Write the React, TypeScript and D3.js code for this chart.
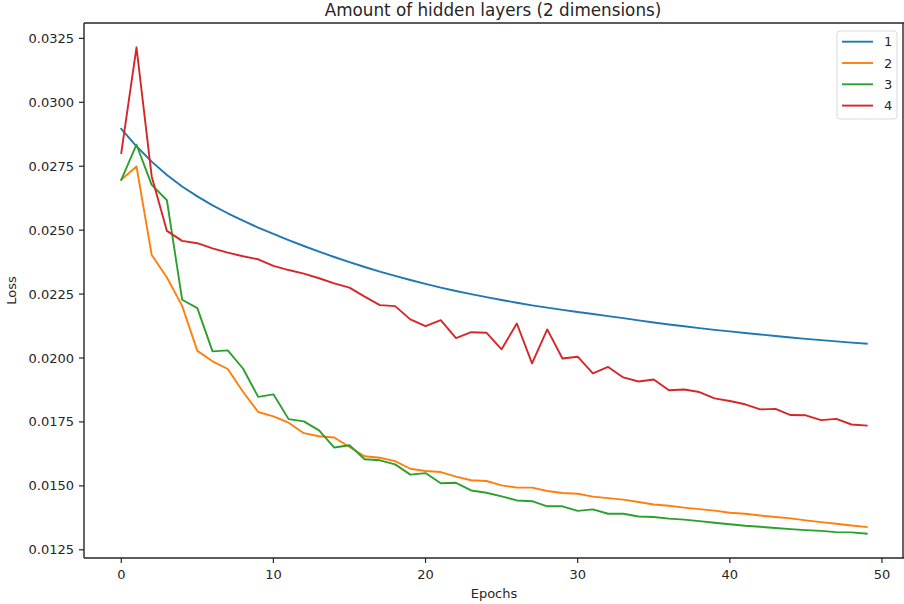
import React from "react";
import * as d3 from "d3";

// Training loss per epoch for networks with 1–4 hidden layers
const epochs: number[] = Array.from({ length: 50 }, (_, i) => i);

const layers1: number[] = [
  0.02896, 0.02828, 0.02768, 0.02716, 0.02671, 0.02632, 0.02597, 0.02566, 0.02537, 0.0251,
  0.02485, 0.02461, 0.02438, 0.02416, 0.02395, 0.02375, 0.02356, 0.02338, 0.02321, 0.02305,
  0.0229, 0.02275, 0.02262, 0.0225, 0.02238, 0.02227, 0.02216, 0.02206, 0.02197, 0.02188,
  0.0218, 0.02172, 0.02164, 0.02156, 0.02147, 0.02139, 0.02131, 0.02124, 0.02117, 0.0211,
  0.02104, 0.02098, 0.02092, 0.02086, 0.0208, 0.02075, 0.0207, 0.02065, 0.0206, 0.02056,
];

const layers2: number[] = [
  0.02697, 0.02749, 0.02403, 0.02315, 0.02204, 0.02028, 0.01987, 0.01957, 0.01868, 0.01789,
  0.01772, 0.01747, 0.01706, 0.01694, 0.01689, 0.01652, 0.01616, 0.0161, 0.01597, 0.01567,
  0.01558, 0.01554, 0.01536, 0.01522, 0.01519, 0.01502, 0.01493, 0.01493, 0.0148, 0.01472,
  0.01469, 0.01458, 0.01452, 0.01446, 0.01437, 0.01427, 0.01422, 0.01415, 0.01409, 0.01403,
  0.01395, 0.01391, 0.01384, 0.01378, 0.01373, 0.01365, 0.01358, 0.01352, 0.01345, 0.01339,
];

const layers3: number[] = [
  0.02697, 0.02834, 0.02677, 0.02617, 0.02228, 0.02195, 0.02026, 0.0203, 0.01959, 0.01848,
  0.01858, 0.01761, 0.01752, 0.01717, 0.0165, 0.01659, 0.01604, 0.016, 0.01584, 0.01544,
  0.0155, 0.0151, 0.01512, 0.01482, 0.01473, 0.01459, 0.01443, 0.0144, 0.0142, 0.0142,
  0.01402, 0.01408, 0.01391, 0.01391, 0.0138, 0.01378, 0.01372, 0.01368, 0.01362, 0.01356,
  0.0135, 0.01344, 0.0134, 0.01335, 0.01331, 0.01327, 0.01324, 0.01319, 0.01318, 0.01313,
];

const layers4: number[] = [
  0.02802, 0.03215, 0.0271, 0.02497, 0.02458, 0.02449, 0.02429, 0.02412, 0.02398, 0.02386,
  0.0236, 0.02344, 0.0233, 0.02312, 0.02292, 0.02275, 0.0224, 0.02207, 0.02203, 0.02151,
  0.02125, 0.02148, 0.02078, 0.02101, 0.02099, 0.02034, 0.02135, 0.01979, 0.02112, 0.01998,
  0.02005, 0.0194, 0.01965, 0.01924, 0.01908, 0.01916, 0.01874, 0.01877, 0.01867, 0.01842,
  0.01832, 0.01819, 0.01799, 0.01801, 0.01777, 0.01776, 0.01757, 0.01762, 0.0174, 0.01736,
];

const seriesNames: string[] = ["1", "2", "3", "4"];
const seriesColors: string[] = ["#1f77b4", "#ff7f0e", "#2ca02c", "#d62728"];
const xTicks: number[] = [0, 10, 20, 30, 40, 50];
const yTicks: number[] = [0.0125, 0.015, 0.0175, 0.02, 0.0225, 0.025, 0.0275, 0.03, 0.0325];

const title = "Amount of hidden layers (2 dimensions)";
const xLabel = "Epochs";
const yLabel = "Loss";

const W = 904;
const H = 604;
const plot = { left: 84, right: 904, top: 23, bottom: 558 };
const FONT = "'DejaVu Sans', sans-serif";
const INK = "#262626";

export default function App() {
  const all = [layers1, layers2, layers3, layers4];
  const flat = all.flat();
  const [yMin, yMax] = d3.extent(flat) as [number, number];
  const yPad = (yMax - yMin) * 0.05;
  const [xMin, xMax] = d3.extent(epochs) as [number, number];
  const xPad = (xMax - xMin) * 0.05;

  const x = d3.scaleLinear().domain([xMin - xPad, xMax + xPad]).range([plot.left, plot.right]);
  const y = d3.scaleLinear().domain([yMin - yPad, yMax + yPad]).range([plot.bottom, plot.top]);

  const line = d3
    .line<number>()
    .x((_, i) => x(epochs[i]))
    .y((d) => y(d));

  const legend = { x: 837, y: 31, w: 60, h: 88, row: 21.3 };

  return (
    <svg
      width={W}
      height={H}
      style={{ position: "absolute", left: 0, top: 0, background: "#fff" }}
      fontFamily={FONT}
    >
      <rect x={0} y={0} width={W} height={H} fill="#fff" />

      {/* series */}
      <g fill="none" strokeWidth={1.9} strokeLinejoin="round" strokeLinecap="square">
        {all.map((s, i) => (
          <path key={i} d={line(s) ?? ""} stroke={seriesColors[i]} />
        ))}
      </g>

      {/* spines */}
      <g stroke={INK} strokeWidth={1.4} fill="none">
        <line x1={plot.left} x2={plot.left} y1={plot.top} y2={plot.bottom} />
        <line x1={plot.left} x2={plot.right} y1={plot.bottom} y2={plot.bottom} />
        <line x1={plot.left} x2={plot.right} y1={plot.top} y2={plot.top} />
        <line x1={plot.right - 1} x2={plot.right - 1} y1={plot.top} y2={plot.bottom} />
      </g>

      {/* x axis */}
      <g>
        {xTicks.map((t) => (
          <g key={t} transform={`translate(${x(t)},${plot.bottom})`}>
            <line y1={0} y2={5} stroke={INK} strokeWidth={1.2} />
            <text y={21} textAnchor="middle" fontSize={13} fill={INK}>
              {t}
            </text>
          </g>
        ))}
        <text x={(plot.left + plot.right) / 2} y={598} textAnchor="middle" fontSize={13} fill={INK}>
          {xLabel}
        </text>
      </g>

      {/* y axis */}
      <g>
        {yTicks.map((t) => (
          <g key={t} transform={`translate(${plot.left},${y(t)})`}>
            <line x1={-5} x2={0} stroke={INK} strokeWidth={1.2} />
            <text x={-10} dy="0.35em" textAnchor="end" fontSize={13} fill={INK}>
              {d3.format(".4f")(t)}
            </text>
          </g>
        ))}
        <text
          transform={`translate(16,${(plot.top + plot.bottom) / 2}) rotate(-90)`}
          textAnchor="middle"
          fontSize={13}
          fill={INK}
        >
          {yLabel}
        </text>
      </g>

      {/* title */}
      <text x={493} y={16} textAnchor="middle" fontSize={16.8} fill={INK}>
        {title}
      </text>

      {/* legend */}
      <g>
        <rect
          x={legend.x}
          y={legend.y}
          width={legend.w}
          height={legend.h}
          rx={3}
          fill="#fff"
          fillOpacity={0.8}
          stroke="#d9d9d9"
          strokeWidth={1}
        />
        {seriesNames.map((n, i) => {
          const cy = legend.y + 10.7 + i * legend.row;
          return (
            <g key={n}>
              <line x1={842} x2={873} y1={cy} y2={cy} stroke={seriesColors[i]} strokeWidth={1.9} />
              <text x={884} y={cy} dy="0.35em" fontSize={13} fill={INK}>
                {n}
              </text>
            </g>
          );
        })}
      </g>
    </svg>
  );
}
